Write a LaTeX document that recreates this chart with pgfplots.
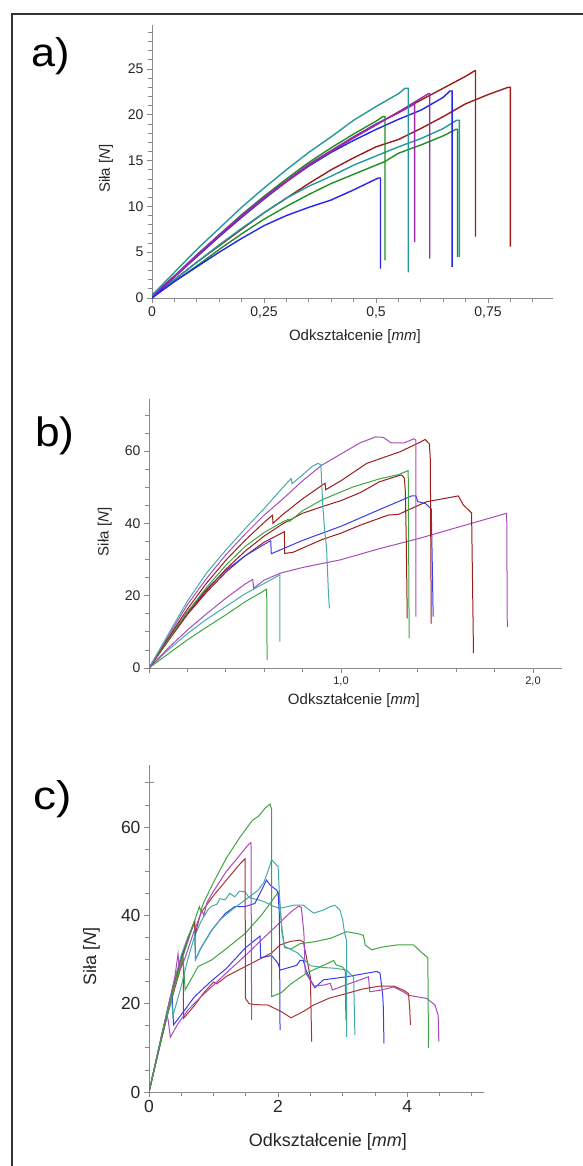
\documentclass[border=0pt]{standalone}
\usepackage{fontspec}
\setmainfont{Liberation Sans}
\usepackage{pgfplots}
\pgfplotsset{compat=1.18}
\definecolor{Tl}{HTML}{23999B}
\definecolor{Bl}{HTML}{2424F0}
\definecolor{Gr}{HTML}{1F8F1F}
\definecolor{Pu}{HTML}{9A2AAA}
\definecolor{Rd}{HTML}{9C1B1B}
\definecolor{lTl}{HTML}{45AAAA}
\definecolor{lBl}{HTML}{3A3AF0}
\definecolor{lGr}{HTML}{3FA43F}
\definecolor{lPu}{HTML}{AA4ABA}
\definecolor{lRd}{HTML}{A83434}
\definecolor{AxGray}{HTML}{8A8A8A}

\pgfplotsset{
  panel/.style={
    scale only axis, anchor=south west,
    axis lines=left, axis line style={AxGray,line width=1pt,-},
    tick align=outside, tick style={AxGray,line width=0.8pt},
    major tick length=5pt, minor tick length=4pt,
    xmin=0, ymin=0,
    /pgf/number format/assume math mode=true,
    label style={font=\fontsize{15}{17}\selectfont,color=black!85},
    tick label style={font=\fontsize{14}{16}\selectfont,color=black!85},
  }
}

\begin{document}
\begin{tikzpicture}
\path[use as bounding box] (0,0) rectangle (583pt,-1166pt);
\draw[line width=1.5pt,black!80] (12pt,-1166pt) -- (12pt,-14pt) -- (583pt,-14pt);

% ---------------- a)
\node[anchor=base west,inner sep=0,xscale=1.08,font=\fontsize{40}{42}\selectfont] at (31pt,-67pt) {a)};
\begin{axis}[panel, at={(152pt,-298pt)}, width=401pt, height=273pt,
  xmax=0.895, ymax=29.8,
  xtick={0,0.25,0.5,0.75}, xticklabels={0,{0,25},{0,5},{0,75}},
  minor xtick={0.05,0.1,0.15,0.2,0.3,0.35,0.4,0.45,0.55,0.6,0.65,0.7,0.8,0.85},
  ytick={0,5,10,15,20,25}, yticklabels={0,5,10,15,20,25},
  minor ytick={1,2,3,4,6,7,8,9,11,12,13,14,16,17,18,19,21,22,23,24,26,27,28,29},
  xlabel={Odkształcenie [\textit{mm}]}, ylabel={Siła [\textit{N}]},
  xlabel style={at={(axis description cs:0.506,-0.143)},anchor=center},
  ylabel style={at={(axis description cs:-0.115,0.474)},anchor=center},
  every axis plot/.append style={line width=1.4pt}]
\addplot[Rd] coordinates {(0,0.2) (0.05,2.0) (0.1,3.9) (0.15,5.7) (0.2,7.5) (0.25,9.3) (0.3,10.9) (0.35,12.5) (0.4,14.0) (0.45,15.3) (0.5,16.5) (0.55,17.3) (0.6,18.5) (0.65,19.8) (0.7,21.2) (0.75,22.2) (0.795,23.0) (0.8,23.0) (0.8,5.6)};
\addplot[Gr] coordinates {(0,0.1) (0.05,1.8) (0.1,3.5) (0.15,5.3) (0.2,7.0) (0.25,8.6) (0.3,10.0) (0.35,11.3) (0.4,12.5) (0.45,13.5) (0.5,14.5) (0.52,14.9) (0.55,15.8) (0.6,16.7) (0.65,17.7) (0.678,18.4) (0.682,18.4) (0.682,4.5)};
\addplot[Tl] coordinates {(0,0.2) (0.05,2.0) (0.1,3.9) (0.15,5.8) (0.2,7.6) (0.25,9.3) (0.3,10.9) (0.35,12.2) (0.4,13.3) (0.45,14.5) (0.5,15.5) (0.55,16.5) (0.6,17.4) (0.65,18.5) (0.68,19.4) (0.686,19.4) (0.686,4.5)};
\addplot[Bl] coordinates {(0,0) (0.05,1.8) (0.1,3.4) (0.15,5.0) (0.2,6.5) (0.25,7.9) (0.3,9.0) (0.35,9.9) (0.4,10.7) (0.45,11.8) (0.505,13.1) (0.51,13.1) (0.51,3.2)};
\addplot[Rd] coordinates {(0,0.3) (0.05,2.3) (0.1,4.6) (0.15,6.8) (0.2,8.9) (0.25,10.9) (0.3,12.7) (0.35,14.5) (0.4,16.0) (0.45,17.5) (0.5,18.9) (0.55,20.3) (0.6,21.6) (0.65,22.9) (0.7,24.2) (0.72,24.8) (0.722,24.8) (0.722,6.7)};
\addplot[Bl] coordinates {(0,0) (0.05,2.3) (0.1,4.5) (0.15,6.7) (0.2,8.8) (0.25,10.8) (0.3,12.7) (0.35,14.4) (0.4,15.9) (0.45,17.2) (0.5,18.4) (0.55,19.5) (0.6,20.5) (0.65,21.9) (0.665,22.6) (0.67,22.6) (0.67,3.4)};
\addplot[Gr] coordinates {(0,0.2) (0.05,2.4) (0.1,4.7) (0.15,6.9) (0.2,9.1) (0.25,11.1) (0.3,13.0) (0.35,14.8) (0.4,16.4) (0.45,17.9) (0.5,19.3) (0.515,19.8) (0.52,19.8) (0.52,4.1)};
\addplot[Pu] coordinates {(0,0.3) (0.05,2.4) (0.1,4.7) (0.15,6.9) (0.2,9.0) (0.25,11.0) (0.3,12.8) (0.35,14.6) (0.4,16.1) (0.45,17.6) (0.5,19.0) (0.55,20.2) (0.583,21.1) (0.586,21.2) (0.586,6.1)};
\addplot[Pu] coordinates {(0,0.2) (0.05,2.3) (0.1,4.6) (0.15,6.8) (0.2,8.9) (0.25,10.9) (0.3,12.7) (0.35,14.5) (0.4,16.0) (0.45,17.5) (0.5,18.9) (0.55,20.3) (0.6,21.8) (0.617,22.3) (0.62,22.3) (0.62,4.3)};
\addplot[Tl] coordinates {(0,0.3) (0.05,2.8) (0.1,5.3) (0.15,7.6) (0.2,9.9) (0.25,12.0) (0.3,14.0) (0.35,15.9) (0.4,17.6) (0.45,19.4) (0.5,20.9) (0.55,22.3) (0.565,22.9) (0.572,22.9) (0.572,2.8)};
\end{axis}

% ---------------- b)
\node[anchor=base west,inner sep=0,xscale=1.08,font=\fontsize{41}{43}\selectfont] at (35pt,-446pt) {b)};
\begin{axis}[panel, at={(149pt,-668pt)}, width=413pt, height=269pt,
  xmax=2.151, ymax=74.4,
  xtick={0,1,2}, xticklabels={,{1,0},{2,0}},
  xticklabel style={font=\fontsize{11}{13}\selectfont},
  minor xtick={0.2,0.4,0.6,0.8,1.2,1.4,1.6,1.8},
  ytick={0,20,40,60}, yticklabels={0,20,40,60},
  minor ytick={5,10,15,25,30,35,45,50,55,65,70},
  xlabel={Odkształcenie [\textit{mm}]}, ylabel={Siła [\textit{N}]},
  xlabel style={at={(axis description cs:0.496,-0.123)},anchor=center},
  ylabel style={at={(axis description cs:-0.107,0.506)},anchor=center},
  every axis plot/.append style={line width=1pt}]
\addplot[lGr] coordinates {(0,0) (0.1,3.9) (0.2,7.8) (0.3,11.3) (0.4,14.7) (0.5,18.3) (0.613,21.8) (0.615,2.2)};
\addplot[lTl] coordinates {(0,0) (0.1,5.0) (0.2,9.5) (0.3,13.5) (0.4,17.0) (0.5,20.5) (0.6,23.4) (0.682,25.8) (0.682,7.3)};
\addplot[lPu] coordinates {(0,0) (0.1,5.5) (0.2,10.5) (0.3,15.0) (0.4,19.3) (0.5,23.2) (0.54,24.5) (0.545,22.1) (0.6,24.3) (0.682,26.2) (0.8,27.8) (0.995,29.9) (1.2,33.0) (1.411,35.9) (1.6,38.8) (1.863,42.8) (1.866,11.4)};
\addplot[Rd] coordinates {(0,0) (0.1,7.5) (0.2,14.8) (0.3,21.0) (0.4,26.5) (0.5,31.0) (0.6,34.8) (0.705,37.7) (0.707,31.7) (0.75,32.0) (0.9,35.5) (1.0,37.3) (1.1,39.5) (1.246,42.3) (1.3,42.5) (1.446,46.0) (1.55,47.0) (1.611,47.6) (1.637,45.1) (1.68,42.9) (1.69,4.1)};
\addplot[lBl] coordinates {(0,0) (0.1,7.9) (0.2,15.5) (0.3,21.8) (0.4,27.0) (0.5,31.0) (0.6,34.2) (0.634,35.2) (0.637,31.6) (0.8,35.3) (1.0,39.2) (1.2,43.8) (1.368,47.6) (1.39,47.6) (1.4,46.0) (1.44,45.5) (1.47,44) (1.475,30) (1.48,14.2)};
\addplot[Rd] coordinates {(0,0) (0.1,7.6) (0.2,15.0) (0.3,21.5) (0.4,27.3) (0.5,32.3) (0.6,36.5) (0.7,40.0) (0.8,42.8) (0.9,44.6) (1.0,46.3) (1.1,48.5) (1.2,51.5) (1.3,53.2) (1.316,53.4) (1.33,52.5) (1.335,49) (1.34,35) (1.345,13.7)};
\addplot[lGr] coordinates {(0,0) (0.1,7.8) (0.2,15.5) (0.3,22.3) (0.4,28.4) (0.5,33.6) (0.6,37.5) (0.7,40.5) (0.726,41.1) (0.73,40.5) (0.8,43.5) (0.9,46.5) (1.0,48.7) (1.064,50.1) (1.2,52.3) (1.3,53.5) (1.35,54.6) (1.355,8.2)};
\addplot[Rd] coordinates {(0,0) (0.1,8.3) (0.2,16.3) (0.3,23.5) (0.4,29.8) (0.5,35.3) (0.6,40.3) (0.644,42.3) (0.645,40.0) (0.7,42.6) (0.8,46.8) (0.9,50.5) (0.917,51.1) (0.92,49.3) (1.0,51.8) (1.134,56.6) (1.307,59.8) (1.41,62.4) (1.438,63.2) (1.46,62) (1.465,58) (1.47,12.3)};
\addplot[lPu] coordinates {(0,0) (0.1,8.8) (0.2,17.5) (0.3,24.8) (0.4,31.3) (0.5,37.0) (0.6,42.3) (0.7,46.9) (0.8,51.8) (0.9,56.1) (1.0,59.2) (1.1,62.3) (1.18,63.9) (1.22,63.8) (1.26,62.3) (1.33,62.3) (1.38,63.4) (1.39,63.0) (1.39,14.2)};
\addplot[lTl] coordinates {(0,0) (0.1,9.3) (0.2,18.5) (0.3,26.3) (0.4,32.6) (0.5,38.5) (0.6,44.1) (0.7,50.1) (0.74,52.4) (0.745,51.0) (0.8,53.4) (0.85,55.8) (0.88,56.6) (0.895,56.2) (0.905,45) (0.915,38) (0.925,33) (0.935,20) (0.94,16.5)};
\end{axis}

% ---------------- c)
\node[anchor=base west,inner sep=0,xscale=1.15,font=\fontsize{40}{42}\selectfont] at (33pt,-809pt) {c)};
\begin{axis}[panel, at={(149pt,-1092pt)}, width=335pt, height=327pt,
  xmax=5.19, ymax=74.05,
  label style={font=\fontsize{18}{20}\selectfont},
  tick label style={font=\fontsize{17.5}{19}\selectfont},
  xtick={0,2,4}, xticklabels={0,2,4},
  minor xtick={0.5,1,1.5,2.5,3,3.5,4.5,5},
  ytick={0,20,40,60}, yticklabels={0,20,40,60},
  minor ytick={5,10,15,25,30,35,45,50,55,65},
  extra y ticks={70}, extra y tick labels={},
  extra y tick style={tick align=center, major tick length=9pt},
  xlabel={Odkształcenie [\textit{mm}]}, ylabel={Siła [\textit{N}]},
  xlabel style={at={(axis description cs:0.534,-0.153)},anchor=center},
  ylabel style={at={(axis description cs:-0.172,0.413)},anchor=center},
  every axis plot/.append style={line width=1pt}]
\addplot[lRd] coordinates {(0,0) (0.1,6.2) (0.2,12.4) (0.3,18.2) (0.4,23.5) (0.5,28.5) (0.53,29.9) (0.535,16.7) (0.7,19.5) (0.85,22.5) (1.0,24.9) (1.05,24.5) (1.2,26.2) (1.49,28.4) (1.7,30.0) (1.9,31.5) (2.03,33.3) (2.19,34.1) (2.34,34.4) (2.39,34.0) (2.44,30.5) (2.5,26) (2.52,11.4)};
\addplot[lBl] coordinates {(0,0) (0.1,6.3) (0.2,12.6) (0.3,18.5) (0.36,21.5) (0.38,15.2) (0.5,17.5) (0.7,21.5) (0.97,25.2) (1.2,28.0) (1.49,32.6) (1.72,35.3) (1.73,30.4) (1.9,30.9) (2.0,29.1) (2.03,27.6) (2.29,28.7) (2.34,29.8) (2.39,29.8) (2.44,27.3) (2.5,25.5) (2.57,23.6) (2.7,25.4) (3.06,26.1) (3.37,26.9) (3.53,27.3) (3.58,26.9) (3.62,22) (3.63,19.3) (3.64,11.0)};
\addplot[lPu] coordinates {(0,0) (0.1,6.3) (0.2,12.5) (0.28,17.5) (0.3,16) (0.33,12.4) (0.45,15.5) (0.6,18.5) (0.8,21.5) (0.97,23.8) (1.2,27.0) (1.5,31.0) (1.74,34.4) (2.0,38.0) (2.2,40.8) (2.32,42.1) (2.36,41.8) (2.4,36) (2.42,27) (2.47,26.0) (2.55,24.0) (2.7,24.2) (2.81,24.6) (2.84,23.1) (3.0,24.0) (3.27,25.4) (3.4,26.1) (3.42,22.7) (3.6,23.1) (3.79,23.8) (3.94,22.7) (4.02,21.9) (4.3,21.2) (4.43,19.7) (4.48,17.4) (4.49,11.4)};
\addplot[lGr] coordinates {(0,0) (0.1,6.3) (0.2,12.5) (0.3,18.5) (0.4,24) (0.5,29) (0.53,30.2) (0.56,23.1) (0.65,25.5) (0.76,28.4) (0.97,29.9) (1.2,32.5) (1.49,35.9) (1.75,40.2) (2.0,45.2) (2.02,44) (2.06,37) (2.1,32.7) (2.2,32.4) (2.34,33.6) (2.55,34.0) (2.81,34.8) (3.06,36.3) (3.22,35.9) (3.32,35.5) (3.35,33.3) (3.45,32.2) (3.6,32.8) (3.84,33.3) (4.1,33.3) (4.2,31.9) (4.32,30.4) (4.33,10.0)};
\addplot[lTl] coordinates {(0,0) (0.1,6.4) (0.2,12.8) (0.3,18.5) (0.35,21) (0.37,17.2) (0.5,24) (0.6,30) (0.7,35) (0.8,38.5) (0.91,41.2) (0.97,42.1) (1.05,42.5) (1.1,43.8) (1.18,43.5) (1.25,45) (1.33,44.2) (1.4,45.5) (1.49,45.3) (1.55,44) (1.7,43.5) (1.8,43.0) (1.9,42.2) (2.03,41.6) (2.24,42.3) (2.39,42.3) (2.55,40.5) (2.7,41.2) (2.81,42.0) (2.88,42.3) (2.96,41.2) (3.0,39.0) (3.03,36) (3.06,34.4) (3.06,12.5)};
\addplot[lBl] coordinates {(0,0) (0.1,6.5) (0.2,13) (0.3,19.5) (0.4,25.5) (0.5,30.5) (0.6,34.5) (0.71,38.6) (0.72,30.0) (0.8,32.5) (0.97,36.6) (1.1,39.0) (1.18,40.4) (1.33,42.0) (1.49,42.0) (1.64,42.7) (1.72,45) (1.82,48.0) (1.88,46.8) (1.98,45.7) (2.0,45.0) (2.02,40) (2.03,14.0)};
\addplot[lTl] coordinates {(0,0) (0.1,6.5) (0.2,13) (0.3,19.5) (0.4,25.5) (0.5,31) (0.6,35) (0.7,38.5) (0.72,30.0) (0.8,32.5) (0.97,36.6) (1.1,39) (1.28,41.2) (1.49,43.5) (1.69,45.7) (1.78,47.5) (1.85,50.3) (1.9,52.6) (1.95,51.8) (2.0,51) (2.03,42) (2.06,36) (2.1,33) (2.3,31.5) (2.5,28.6) (2.7,28.2) (2.9,28.0) (3.06,27.6) (3.17,26) (3.19,12.9)};
\addplot[lRd] coordinates {(0,0) (0.1,6.4) (0.2,12.8) (0.3,19) (0.4,25) (0.5,30) (0.6,34.5) (0.7,38.5) (0.72,36) (0.8,40.5) (1.0,44.5) (1.2,48.0) (1.4,51.5) (1.488,52.8) (1.495,21.2) (1.55,20.0) (1.63,19.8) (1.84,19.7) (2.05,18.2) (2.2,16.8) (2.4,18.3) (2.55,19.7) (2.8,21.3) (3.06,22.3) (3.3,23.3) (3.58,24.0) (3.79,24.0) (3.95,23.0) (4.02,22.3) (4.04,18.6) (4.05,15.2)};
\addplot[lPu] coordinates {(0,0) (0.1,6.6) (0.2,13.2) (0.3,19.5) (0.4,26) (0.45,31.3) (0.47,27.5) (0.55,30) (0.7,36.5) (0.82,41.0) (0.85,40) (0.9,43) (1.0,45.5) (1.2,50.0) (1.4,53.5) (1.55,56.2) (1.58,56.5) (1.59,16.3)};
\addplot[lGr] coordinates {(0,0) (0.1,6.5) (0.2,13) (0.3,19) (0.4,24.5) (0.5,29.5) (0.6,34) (0.7,38.5) (0.78,42.0) (0.8,41.0) (0.85,43.0) (1.0,47.5) (1.2,53.0) (1.4,57.5) (1.6,61.5) (1.7,62.5) (1.8,64.3) (1.876,65.2) (1.9,64.0) (1.9,21.6) (2.05,22.5) (2.2,24.5) (2.46,27.1) (2.6,28.0) (2.75,29.0) (2.86,29.8) (2.9,28.8) (3.0,28.3) (3.04,27.5) (3.05,16.3)};
\end{axis}
\end{tikzpicture}
\end{document}
